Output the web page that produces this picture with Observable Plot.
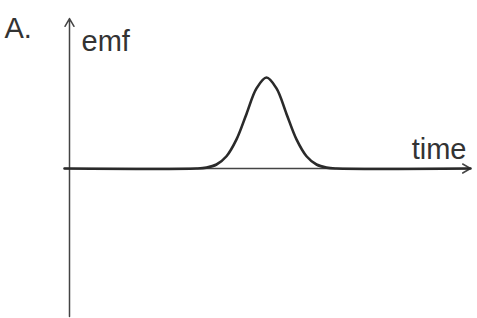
<!DOCTYPE html>
<html>
<head>
<meta charset="utf-8">
<script src="https://cdn.jsdelivr.net/npm/d3@7"></script>
<script src="https://cdn.jsdelivr.net/npm/@observablehq/plot@0.6"></script>
<style>
  html, body { margin: 0; padding: 0; background: #fff; }
  #chart { width: 477px; height: 318px; }
  svg { display: block; }
</style>
</head>
<body>
<div id="chart"></div>
<script>
// Pulse of emf versus time (arbitrary units)
const times = [-0.25, 6.35, 6.85, 7.35, 7.85, 8.35, 8.85, 9.35, 9.85, 10.35, 10.85, 11.35, 11.85, 12.35, 12.85, 13.35, 20.05];
const emf   = [0,     0,    0.01, 0.044, 0.135, 0.32, 0.6,  0.88, 1,    0.88,  0.6,   0.32,  0.135, 0.044, 0.01,  0,     0];
const axisLabels = { panel: "A.", y: "emf", x: "time" };
const xExtent = [-0.25, 20.05];
const yExtent = [-1.626, 1.648];

const data = times.map((t, i) => ({ t, e: emf[i] }));
const ink = "#333";

const chart = Plot.plot({
  width: 477,
  height: 318,
  margin: 0,
  x: { domain: [-3.45, 20.4], axis: null },
  y: { domain: [-1.648, 1.846], axis: null },
  style: { fontFamily: "'Liberation Sans', Arial, sans-serif", background: "#fff" },
  marks: [
    // vertical axis with arrow
    Plot.arrow([0], { x1: 0, x2: 0, y1: yExtent[0], y2: yExtent[1], stroke: "#444", strokeWidth: 1.5, headLength: 9, headAngle: 60 }),
    // horizontal axis with arrow
    Plot.arrow([0], { x1: xExtent[0], x2: xExtent[1], y1: 0, y2: 0, stroke: "#444", strokeWidth: 1.5, headLength: 9, headAngle: 60 }),
    // emf pulse
    Plot.line(data, { x: "t", y: "e", curve: "catmull-rom", stroke: "#2a2a2a", strokeWidth: 2.6 }),
    // labels
    Plot.text([axisLabels.panel], { frameAnchor: "top-left", dx: 4, dy: 37, fontSize: 29, fill: ink, textAnchor: "start", lineAnchor: "bottom" }),
    Plot.text([axisLabels.y], { x: 0, y: yExtent[1], dx: 12, dy: 32, fontSize: 29, fill: ink, textAnchor: "start", lineAnchor: "bottom" }),
    Plot.text([axisLabels.x], { x: xExtent[1], y: 0, dx: -4, dy: -10, fontSize: 29, fill: ink, textAnchor: "end", lineAnchor: "bottom" })
  ]
});
document.getElementById("chart").appendChild(chart);
</script>
</body>
</html>
